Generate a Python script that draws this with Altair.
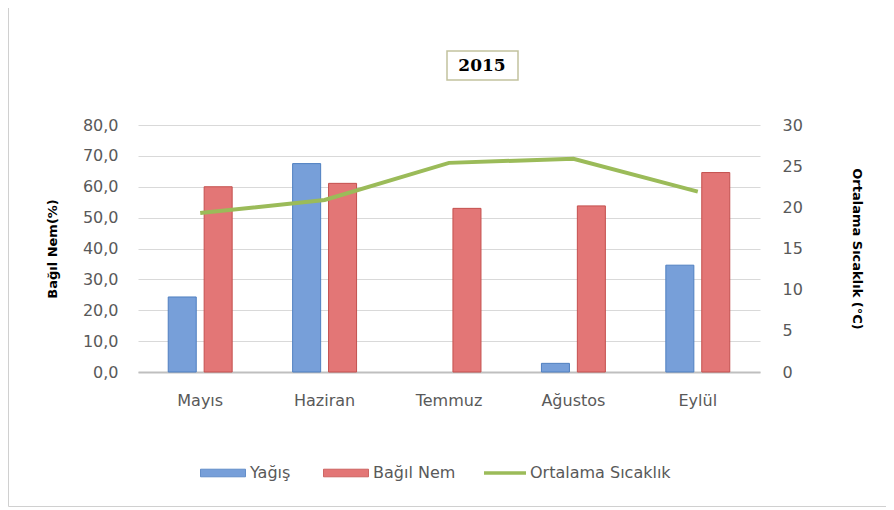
import altair as alt
import pandas as pd

months = ["Mayıs", "Haziran", "Temmuz", "Ağustos", "Eylül"]
yagis = [24.3, 67.5, 0.0, 2.8, 34.6]
bagil_nem = [60.0, 61.1, 53.0, 53.8, 64.6]
sicaklik = [19.3, 20.9, 25.4, 25.9, 21.9]

bar_series = ["Yağış", "Bağıl Nem"]
bar_fills = ["#779fd9", "#e37676"]
bar_strokes = ["#4f7fc0", "#c4504e"]
line_name = "Ortalama Sıcaklık"
line_color = "#9bbb59"

rows = []
for m, a, b in zip(months, yagis, bagil_nem):
    rows.append({"month": m, "series": "Yağış", "value": a})
    rows.append({"month": m, "series": "Bağıl Nem", "value": b})
bar_df = pd.DataFrame(rows)
line_df = pd.DataFrame({"month": months, "temp": sicaklik, "s": [line_name] * len(months)})

FONT = "DejaVu Sans"
GREY = "#595959"

bar_legend = alt.Legend(
    title=None, orient="none", legendX=62, legendY=325, direction="horizontal",
    labelFont=FONT, labelFontSize=16, labelColor=GREY, symbolSize=2025,
    labelOffset=4, columnPadding=30, symbolType="M-1,-0.17H1V0.17H-1Z",
    symbolStrokeWidth=0.8,
)
line_legend = alt.Legend(
    title=None, orient="none", legendX=344, legendY=325, direction="horizontal",
    labelFont=FONT, labelFontSize=16, labelColor=GREY, symbolSize=1764,
    labelOffset=2, symbolType="M-1,0H1", symbolStrokeWidth=3.5,
)

x_enc = alt.X(
    "month:N", sort=months, title=None,
    scale=alt.Scale(paddingInner=0.486, paddingOuter=0.243),
    axis=alt.Axis(labelFont=FONT, labelFontSize=16, labelColor=GREY, labelAngle=0,
                  labelPadding=20, ticks=False, domainColor="#bfbfbf", domainWidth=2,
                  grid=False),
)

bars = alt.Chart(bar_df).transform_filter("datum.value > 0").mark_bar(strokeWidth=1).encode(
    x=x_enc,
    xOffset=alt.XOffset("series:N", sort=bar_series,
                        scale=alt.Scale(paddingInner=0.22)),
    y=alt.Y("value:Q", scale=alt.Scale(domain=[0, 80]), title="Bağıl Nem(%)",
            axis=alt.Axis(values=[0, 10, 20, 30, 40, 50, 60, 70, 80],
                          labelExpr="replace(format(datum.value, '.1f'), '.', ',')",
                          labelFont=FONT, labelFontSize=16, labelColor=GREY,
                          labelPadding=20, ticks=False, domain=False,
                          grid=True, gridColor="#d9d9d9", gridWidth=1,
                          titleFont=FONT, titleFontSize=13, titleFontWeight="bold",
                          titleColor="#000000", titlePadding=23)),
    fill=alt.Fill("series:N", scale=alt.Scale(domain=bar_series, range=bar_fills),
                  sort=bar_series, legend=bar_legend),
    stroke=alt.Stroke("series:N", scale=alt.Scale(domain=bar_series, range=bar_strokes),
                      legend=None),
)

line = alt.Chart(line_df).mark_line(strokeWidth=4).encode(
    x=alt.X("month:N", sort=months),
    y=alt.Y("temp:Q", scale=alt.Scale(domain=[0, 30]), title="Ortalama Sıcaklık  (°C)",
            axis=alt.Axis(orient="right", values=[0, 5, 10, 15, 20, 25, 30],
                          labelFont=FONT, labelFontSize=16, labelColor=GREY,
                          labelPadding=22, ticks=False, domain=False, grid=False,
                          titleFont=FONT, titleFontSize=13, titleFontWeight="bold",
                          titleColor="#000000", titlePadding=47)),
    color=alt.Color("s:N", scale=alt.Scale(domain=[line_name], range=[line_color]),
                    legend=line_legend),
)

frame_df = pd.DataFrame({"k": [1]})
frame = alt.Chart(frame_df).mark_rect(fill="transparent", stroke="#d0d0d0", strokeWidth=1).encode(
    x=alt.value(-129.5), x2=alt.value(760), y=alt.value(-130), y2=alt.value(381.5),
)

title_box = alt.Chart(frame_df).mark_rect(fill="white", stroke="#c2c29e", strokeWidth=1.5).encode(
    x=alt.value(309), x2=alt.value(380), y=alt.value(-74), y2=alt.value(-45),
)
title_txt = alt.Chart(pd.DataFrame({"t": ["2015"]})).mark_text(
    font="DejaVu Serif", fontSize=17, fontWeight="bold", color="#000000",
    align="center", baseline="middle",
).encode(x=alt.value(344), y=alt.value(-59), text="t:N")

chart = alt.layer(frame, bars, line, title_box, title_txt).resolve_scale(
    y="independent"
).properties(
    width=622, height=247,
    autosize=alt.AutoSizeParams(type="none"),
    padding={"left": 130, "top": 117, "right": 126, "bottom": 136},
).configure_view(stroke=None)

chart.save("out.html", embed_options={"renderer": "svg", "actions": False})
